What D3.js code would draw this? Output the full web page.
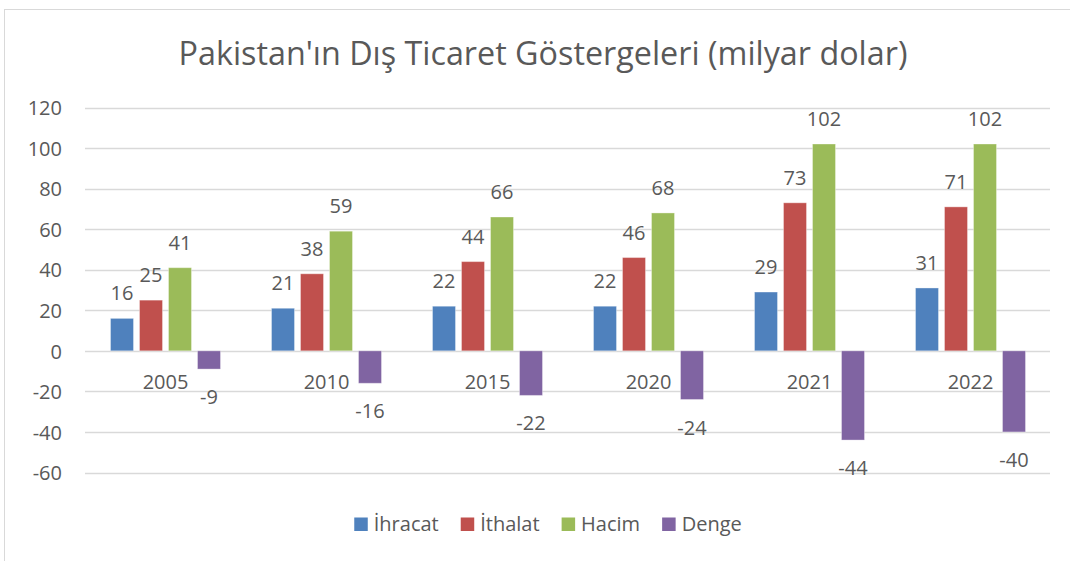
<!DOCTYPE html>
<html><head><meta charset="utf-8">
<script src="https://cdn.jsdelivr.net/npm/d3@7/dist/d3.min.js"></script>
<style>
html,body{margin:0;padding:0;background:#fff;}
svg{display:block;}
text{font-family:"Open Sans","Liberation Sans",Arial,sans-serif;fill:#595959;}
</style></head>
<body>
<svg id="chart" width="1070" height="561"></svg>
<script>
const title = "Pakistan'ın Dış Ticaret Göstergeleri (milyar dolar)";
const categories = ["2005","2010","2015","2020","2021","2022"];
const seriesNames = ["İhracat","İthalat","Hacim","Denge"];
const ihracat = [16,21,22,22,29,31];
const ithalat = [25,38,44,46,73,71];
const hacim   = [41,59,66,68,102,102];
const denge   = [-9,-16,-22,-24,-44,-40];
const yTicks  = [-60,-40,-20,0,20,40,60,80,100,120];
const colors  = ["#4F81BD","#C0504D","#9BBB59","#8064A2"];

const seriesValues = [ihracat, ithalat, hacim, denge];
const svg = d3.select("#chart");
const FONT = "Open Sans, Liberation Sans, Arial, sans-serif";

// frame
svg.append("rect").attr("x",4.5).attr("y",9.5).attr("width",1100).attr("height",600)
  .attr("fill","none").attr("stroke","#d9d9d9").attr("stroke-width",1);

const x0 = d3.scaleBand().domain(categories).range([85,1051]).paddingInner(0).paddingOuter(0);
const x1 = d3.scaleBand().domain(seriesNames).range([25.5,135.5]).paddingInner(6/29).paddingOuter(0);
const y = d3.scaleLinear().domain([-60,120]).range([472.5,107.5]);

// gridlines
svg.append("g").selectAll("line").data(yTicks).join("line")
  .attr("x1",85).attr("x2",1050)
  .attr("y1",d=>Math.round(y(d))+0.5).attr("y2",d=>Math.round(y(d))+0.5)
  .attr("stroke","#d9d9d9").attr("stroke-width",1.3);

// y axis labels
const yAxis = d3.axisLeft(y).tickValues(yTicks).tickSize(0).tickPadding(0).tickFormat(d=>String(d));
const gy = svg.append("g").attr("transform","translate(62,0)").call(yAxis);
gy.select(".domain").remove();
gy.selectAll("text").attr("font-size","20px").attr("fill","#595959")
  .attr("font-family",FONT).attr("dy","0.36em");

// bars
const data = [];
categories.forEach((c,i)=>seriesNames.forEach((s,j)=>data.push({c,s,j,v:seriesValues[j][i]})));

svg.append("g").selectAll("rect").data(data).join("rect")
  .attr("x",d=>x0(d.c)+x1(d.s))
  .attr("width",x1.bandwidth())
  .attr("y",d=>y(Math.max(0,d.v)))
  .attr("height",d=>Math.abs(y(d.v)-y(0)))
  .attr("fill",d=>colors[d.j])
  .attr("stroke","rgba(255,255,255,0.35)").attr("stroke-width",1);

// data labels
svg.append("g").selectAll("text").data(data).join("text")
  .attr("x",d=>x0(d.c)+x1(d.s)+x1.bandwidth()/2)
  .attr("y",d=>d.v>=0 ? y(d.v)-18 : y(d.v)+35)
  .attr("text-anchor","middle").attr("font-size","20px")
  .text(d=>String(d.v));

// category labels
svg.append("g").selectAll("text").data(categories).join("text")
  .attr("x",d=>x0(d)+x0.bandwidth()/2).attr("y",389)
  .attr("text-anchor","middle").attr("font-size","20px").text(d=>d);

// title
svg.append("text").attr("x",543).attr("y",65).attr("text-anchor","middle")
  .attr("font-size","32.3px").text(title);

// legend
const lg = svg.append("g");
const items = lg.selectAll("g").data(seriesNames).join("g");
items.append("rect").attr("width",13.5).attr("height",13.5).attr("y",517.5)
  .attr("fill",(d,i)=>colors[i]);
items.append("text").attr("x",19.5).attr("y",531).attr("font-size","20px").text(d=>d);
let cx = 0; const offs = [];
items.each(function(d){ offs.push(cx); cx += 19.5 + this.querySelector("text").getComputedTextLength() + 22; });
const total = cx - 22;
const start = 548 - total/2;
items.attr("transform",(d,i)=>`translate(${start+offs[i]},0)`);
</script>
</body></html>
